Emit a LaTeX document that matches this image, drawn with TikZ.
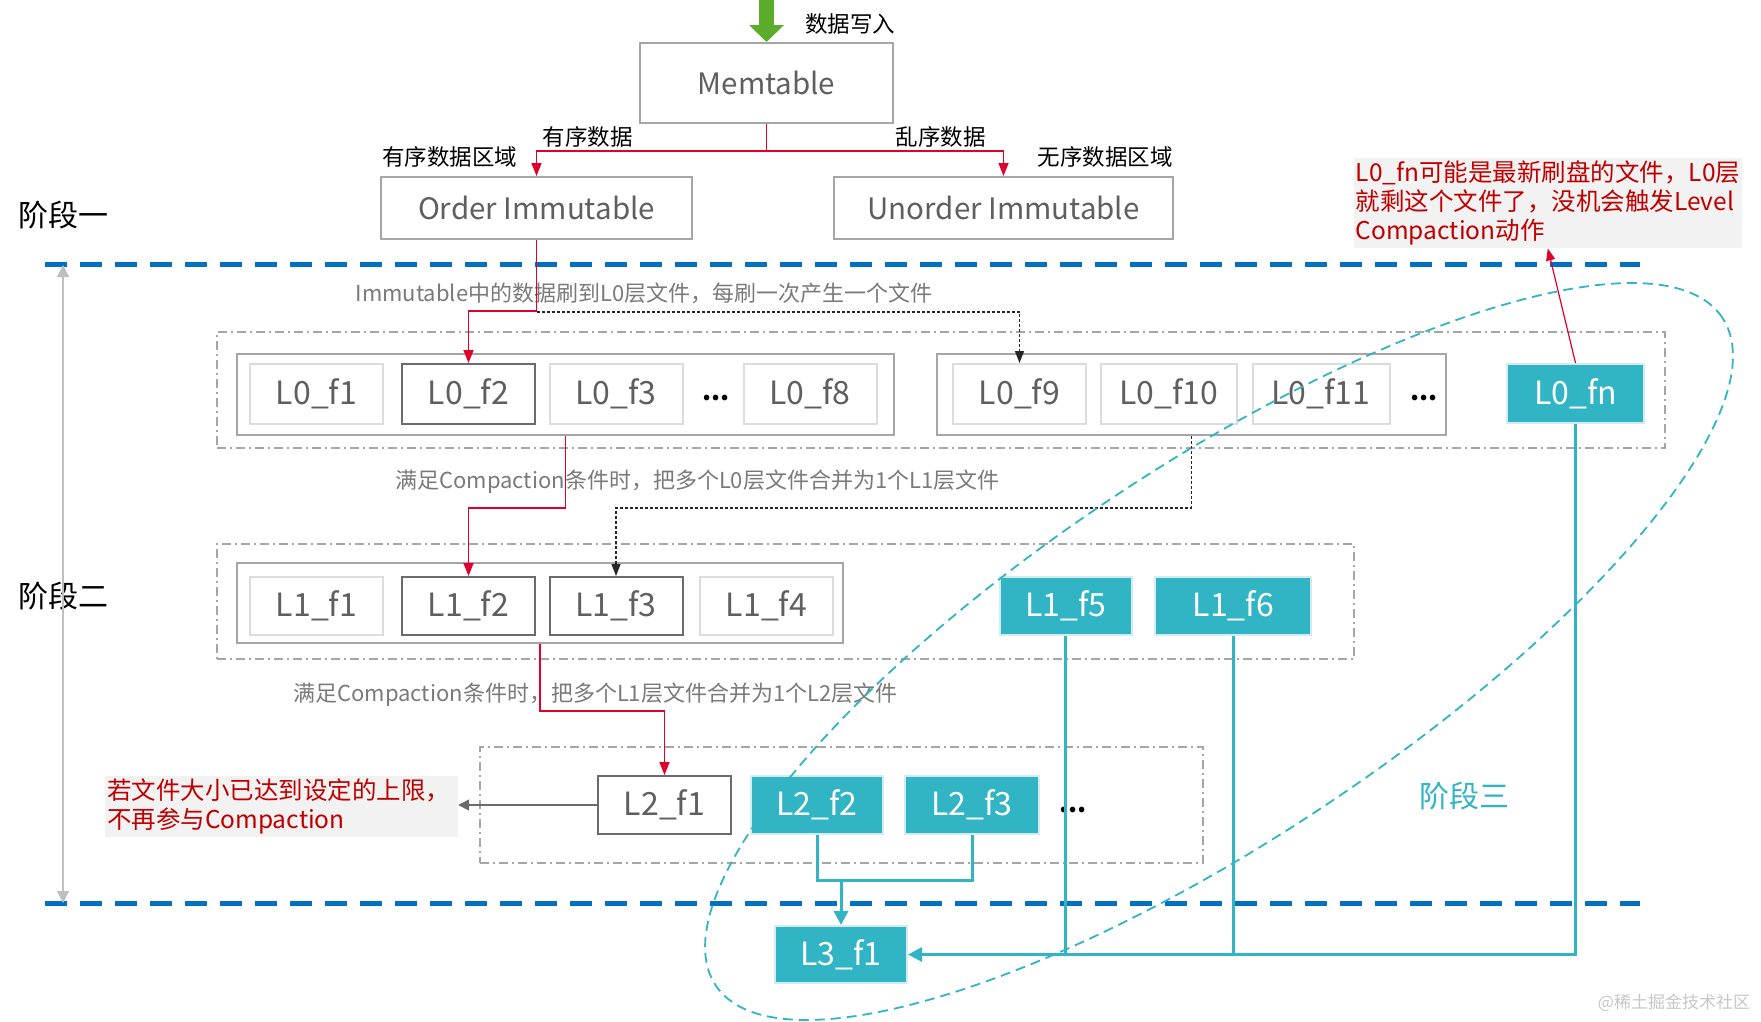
\documentclass[tikz,border=0pt]{standalone}
\usepackage{fontspec}
\setmainfont{Noto Sans CJK SC}
\usetikzlibrary{arrows.meta}
\definecolor{tealc}{HTML}{31B5C5}
\definecolor{tealb}{HTML}{D3ECEF}
\definecolor{redl}{HTML}{E0002A}
\definecolor{redt}{HTML}{C00000}
\definecolor{bluel}{HTML}{0070C0}
\definecolor{greenl}{HTML}{5AAC2A}
\definecolor{gtext}{HTML}{7A7A7A}
\definecolor{ftext}{HTML}{5F5F5F}
\definecolor{lgray}{HTML}{A6A6A6}
\definecolor{vlgray}{HTML}{DCDCDC}
\definecolor{dgray}{HTML}{6B6B6B}
\definecolor{annbg}{HTML}{F2F2F2}
\tikzset{
  bigbox/.style={draw=lgray, line width=2pt, inner sep=0pt, text=ftext, font=\fontsize{29.5}{31}\selectfont},
  grp/.style={draw=lgray, line width=1.6pt, dash pattern=on 9pt off 4pt on 2pt off 4pt, inner sep=0pt},
  inbox/.style={draw=lgray, line width=2pt, inner sep=0pt},
  fl/.style={draw=vlgray, line width=2pt, inner sep=0pt, minimum height=60pt, minimum width=133pt, text=ftext, font=\fontsize{32}{34}\selectfont},
  fd/.style={fl, draw=dgray},
  ft/.style={fl, fill=tealc, draw=tealb, text=white},
  lab/.style={inner sep=0pt, font=\fontsize{22.5}{25}\selectfont},
  glab/.style={inner sep=0pt, text=gtext, font=\fontsize{22}{25}\selectfont},
  stagelab/.style={inner sep=0pt, font=\fontsize{30}{32}\selectfont},
  dots/.style={inner sep=0pt, font=\bfseries\fontsize{26}{26}\selectfont},
  redar/.style={draw=redl, line width=1.5pt, -{Triangle[width=10pt,length=13pt]}},
  dotar/.style={draw=black!85, line width=1.2pt, dash pattern=on 3pt off 2pt, -{Triangle[width=9pt,length=12pt]}},
  tealln/.style={draw=tealc, line width=3pt},
  tealar/.style={tealln, -{Triangle[width=14pt,length=14pt]}},
  bluedash/.style={draw=bluel, line width=5pt, dash pattern=on 22pt off 13pt},
  ann/.style={fill=annbg, text=redt, inner xsep=2pt, inner ysep=3pt, align=left, font=\fontsize{24.5}{29}\selectfont},
}
\begin{document}
\begin{tikzpicture}[x=1pt,y=-1pt]
\useasboundingbox (0,0) rectangle (1761,1021);
\fill[white] (0,0) rectangle (1761,1021);

% stage separators
\coordinate (d1a) at (45,264); \coordinate (d1b) at (1640,264);
\coordinate (d2a) at (45,903); \coordinate (d2b) at (1640,903);
\draw[bluedash] (d1a) -- (d1b);
\draw[bluedash] (d2a) -- (d2b);

% top level
\node[bigbox, minimum width=253pt, minimum height=80pt] (mem) at (766.5,83) {Memtable};
\node[bigbox, minimum width=311pt, minimum height=62pt] (ord) at (536.5,208) {Order Immutable};
\node[bigbox, minimum width=339pt, minimum height=62pt] (unord) at (1003.5,208) {Unorder Immutable};

\coordinate (gin) at (766.5,0);
\draw[draw=greenl, line width=15pt, -{Triangle[width=34pt,length=17pt]}] (gin) -- (mem.north);
\node[lab, anchor=west] (wr) at (805,24) {数据写入};

\node[lab] (yx) at (587.5,137) {有序数据};
\node[lab] (lx) at (940.5,137) {乱序数据};
\node[lab] (yxq) at (449.5,157) {有序数据区域};
\node[lab] (wxq) at (1105,157) {无序数据区域};

\draw[redar] (mem.south) -- ++(0,27) -| (ord.north);
\draw[redar] (mem.south) -- ++(0,27) -| (unord.north);

\node[stagelab, anchor=west] (s1) at (18,215) {阶段一};
\node[stagelab, anchor=west] (s2) at (18,596) {阶段二};
\node[stagelab, text=tealc] (s3) at (1464,796) {阶段三};

% left range arrow
\coordinate (la) at (63,265); \coordinate (lb) at (63,903);
\draw[draw=black!25, line width=1.3pt, {Triangle[width=12pt,length=12pt]}-{Triangle[width=12pt,length=12pt]}] (la) -- (lb);

% L0 level
\node[grp, minimum width=1448pt, minimum height=116pt] (g0) at (941,390) {};
\node[inbox, minimum width=657pt, minimum height=81pt] (b0a) at (565.5,394.5) {};
\node[inbox, minimum width=509pt, minimum height=81pt] (b0b) at (1191.2,394.5) {};
\node[fl] (l0f1) at (316.5,394) {L0\_f1};
\node[fd] (l0f2) at (468.5,394) {L0\_f2};
\node[fl] (l0f3) at (616,394) {L0\_f3};
\node[dots] (dd1) at (716,398) {...};
\node[fl] (l0f8) at (810,394) {L0\_f8};
\node[fl] (l0f9) at (1019.5,394) {L0\_f9};
\node[fl, minimum width=136pt] (l0f10) at (1169,394) {L0\_f10};
\node[fl, minimum width=137pt] (l0f11) at (1321,394) {L0\_f11};
\node[dots] (dd2) at (1424,398) {...};
\node[ft, minimum width=137pt, minimum height=59pt] (l0fn) at (1575.5,393.5) {L0\_fn};

\node[glab] (t1) at (644,293) {Immutable中的数据刷到L0层文件，每刷一次产生一个文件};
\draw[redar] (ord.south) -- ++(0,71) -| (l0f2.north);
\draw[dotar] (ord.south) ++(0,72) -| (l0f9.north);

% L1 level
\node[grp, minimum width=1137pt, minimum height=115pt] (g1) at (785.3,601.5) {};
\node[inbox, minimum width=606pt, minimum height=80pt] (b1) at (540,603) {};
\node[fl, minimum height=58pt] (l1f1) at (316.5,606) {L1\_f1};
\node[fd, minimum height=58pt] (l1f2) at (468.5,606) {L1\_f2};
\node[fd, minimum height=58pt] (l1f3) at (616,606) {L1\_f3};
\node[fl, minimum height=58pt] (l1f4) at (766.5,606) {L1\_f4};
\node[ft, minimum width=132pt, minimum height=58pt] (l1f5) at (1065.7,606) {L1\_f5};
\node[ft, minimum width=156pt, minimum height=58pt] (l1f6) at (1233.4,606) {L1\_f6};

\node[glab] (t2) at (697.5,482) {满足Compaction条件时，把多个L0层文件合并为1个L1层文件};
\draw[redar] (b0a.south) -- ++(0,72) -| (l1f2.north);
\draw[dotar] (b0b.south) -- ++(0,72) -| (l1f3.north);

% L2 level
\node[grp, minimum width=723pt, minimum height=116pt] (g2) at (841.5,805) {};
\node[fd, minimum height=58pt] (l2f1) at (664.5,805) {L2\_f1};
\node[ft, minimum width=132pt, minimum height=58pt] (l2f2) at (817,805) {L2\_f2};
\node[ft, minimum width=134pt, minimum height=58pt] (l2f3) at (972,805) {L2\_f3};
\node[dots] (dd3) at (1073,810) {...};

\node[glab] (t3) at (595.5,695) {满足Compaction条件时，把多个L1层文件合并为1个L2层文件};
\draw[redar] (b1.south) -- ++(0,67) -| (l2f1.north);

\node[ann, text width=349pt, minimum height=61pt] (ann2) at (281.5,806.5) {若文件大小已达到设定的上限，\\不再参与Compaction};
\draw[draw=dgray, line width=1.5pt, -{Triangle[width=11pt,length=11pt]}] (l2f1.west) -- (l2f1.west -| ann2.east);

\node[ann, text width=384pt, minimum height=90pt] (ann1) at (1547.8,203) {L0\_fn可能是最新刷盘的文件，L0层\\就剩这个文件了，没机会触发Level\\Compaction动作};
\draw[draw=redl, line width=1.2pt, -{Triangle[width=9pt,length=12pt]}] (l0fn.north) -- (ann1.south);

% L3
\node[ft, minimum width=132pt, minimum height=57pt] (l3f1) at (841,954.5) {L3\_f1};
\coordinate (j2) at (841,880);
\draw[tealln] (l2f2.south) |- (j2) -| (l2f3.south);
\draw[tealar] (j2) -- (l3f1.north);
\draw[tealar] (l0fn.south) |- (l3f1.east);
\draw[tealln] (l1f5.south) -- (l1f5.south |- l3f1.east);
\draw[tealln] (l1f6.south) -- (l1f6.south |- l3f1.east);

% stage three region
\draw[draw=tealc, line width=1.8pt, dash pattern=on 10pt off 6pt, rotate around={33.55:(1219,651.5)}] (1219,651.5) ellipse [x radius=604pt, y radius=187pt];

\node[inner sep=0pt, text=black!22, font=\fontsize{17}{18}\selectfont] (wm) at (1674,1003) {@稀土掘金技术社区};
\end{tikzpicture}
\end{document}
